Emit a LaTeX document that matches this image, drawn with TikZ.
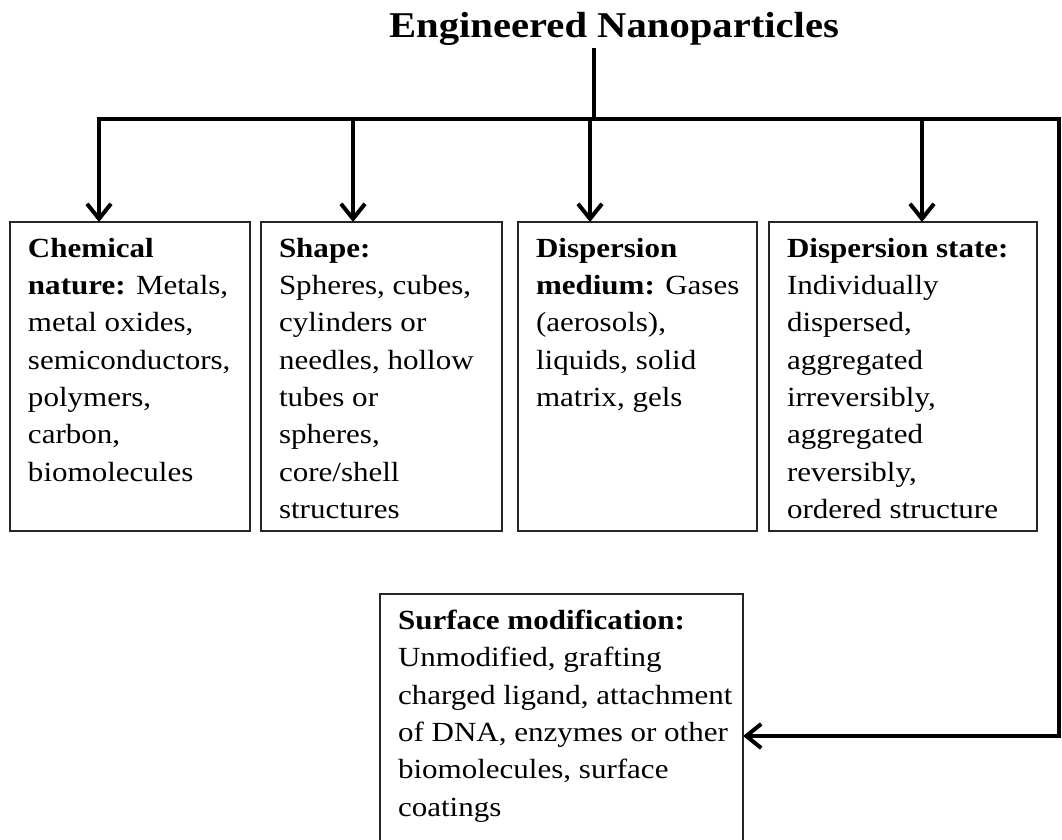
\documentclass[tikz,border=0pt]{standalone}
\usepackage{fontspec}
\setmainfont{Liberation Serif}[FakeStretch=1.12]
\usetikzlibrary{arrows.meta}

% text block of a box: width, height, lines
\newcommand{\cattext}[3]{\parbox[t][#2][t]{#1}{\raggedright\leftskip=9pt #3}}

\tikzset{
  catbox/.style={draw=black!85, line width=0.8pt, anchor=north west, inner xsep=0pt, inner ysep=8pt,
    outer sep=0pt, font=\fontsize{13.85pt}{18.65pt}\selectfont},
  conn/.style={line width=2pt, -{Straight Barb[length=7.5pt, width=12pt]}},
  bar/.style={line width=2pt, line cap=rect},
}

\begin{document}
\begin{tikzpicture}[x=0.5pt, y=-0.5pt]
  \useasboundingbox (0,0) rectangle (1062,840);

  \node[font=\fontsize{18.15pt}{20pt}\selectfont\bfseries, anchor=base, inner sep=2pt] (title) at (614,37.3) {Engineered Nanoparticles};

  % the boxes
  \node[catbox] (chem) at (10,222) {\cattext{120pt}{138.5pt}{\textbf{Chemical}\\ \textbf{nature:} Metals,\\ metal oxides,\\ semiconductors,\\ polymers,\\ carbon,\\ biomolecules}};
  \node[catbox] (shape) at (261,222) {\cattext{120.5pt}{138.5pt}{\textbf{Shape:}\\ Spheres, cubes,\\ cylinders or\\ needles, hollow\\ tubes or\\ spheres,\\ core/shell\\ structures}};
  \node[catbox] (medium) at (518,222) {\cattext{119.5pt}{138.5pt}{\textbf{Dispersion}\\ \textbf{medium:} Gases\\ (aerosols),\\ liquids, solid\\ matrix, gels}};
  \node[catbox] (state) at (769,222) {\cattext{134pt}{138.5pt}{\textbf{Dispersion state:}\\ Individually\\ dispersed,\\ aggregated\\ irreversibly,\\ aggregated\\ reversibly,\\ ordered structure}};
  \node[catbox] (surf) at (380,594) {\cattext{181.5pt}{108pt}{\textbf{Surface modification:}\\ Unmodified, grafting\\ charged ligand, attachment\\ of DNA, enzymes or other\\ biomolecules, surface\\ coatings}};

  % connectors
  \coordinate (hub) at (594,119);
  \coordinate (a1) at (99,119);
  \coordinate (a2) at (353,119);
  \coordinate (a3) at (590,119);
  \coordinate (a4) at (922,119);
  \coordinate (rtop) at (1059,119);
  \coordinate (rbot) at (1059,736);

  \draw[bar] (title.south -| hub) -- (hub);
  \draw[conn, line cap=rect] (a1) -- (rtop) -- (rbot) -- (rbot -| surf.east);
  \foreach \c/\b in {a1/chem, a2/shape, a3/medium, a4/state}
    \draw[conn] (\c) -- (\c |- \b.north);
\end{tikzpicture}
\end{document}
